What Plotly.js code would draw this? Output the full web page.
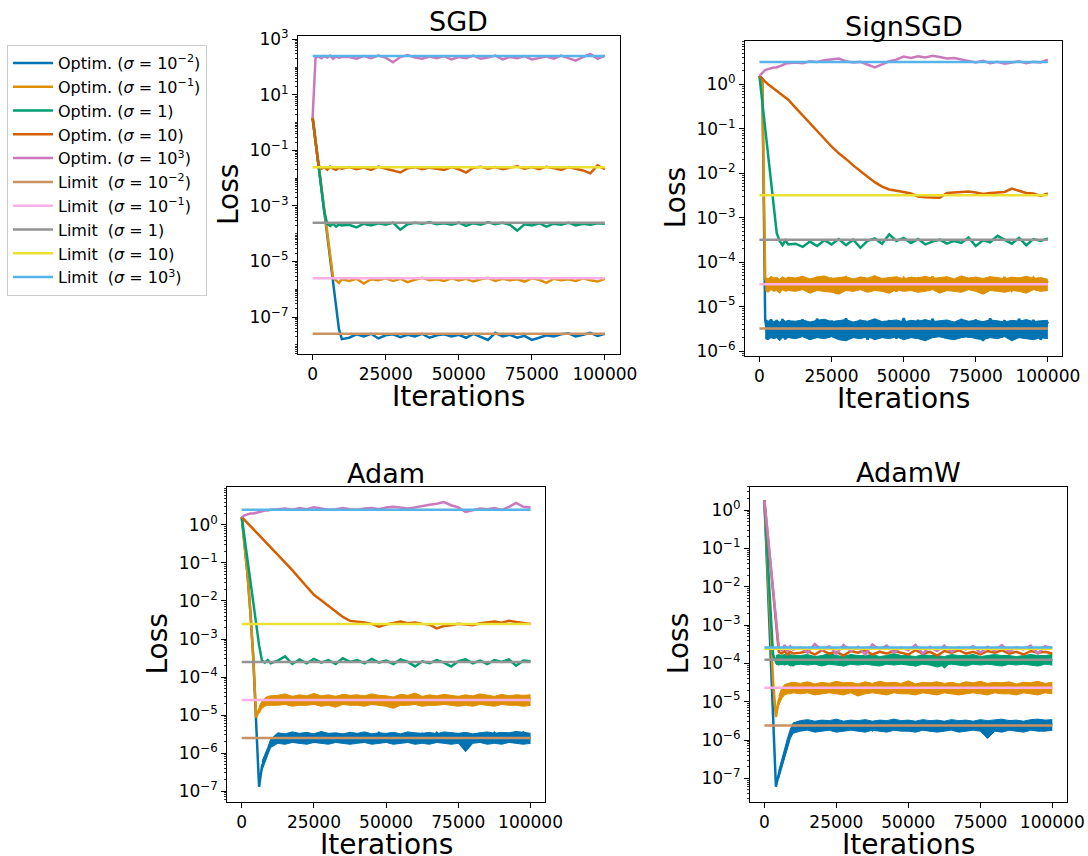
<!DOCTYPE html>
<html><head><meta charset="utf-8">
<script src="https://cdn.plot.ly/plotly-3.0.1.min.js"></script>
<style>html,body{margin:0;padding:0;background:#fff}#chart{width:1088px;height:856px}</style>
</head><body><div id="chart"></div>
<script>
// ---------------- DATA ----------------
const iters = [0,1000,2000,3000,4000,5000,6000,7000,8000,9000,10000,
  12500,15000,17500,20000,22500,25000,27500,30000,32500,35000,37500,40000,42500,45000,47500,50000,
  52500,55000,57500,60000,62500,65000,67500,70000,72500,75000,77500,80000,82500,85000,87500,90000,
  92500,95000,97500,100000];

const sigmaLabels = ['10<sup>−2</sup>','10<sup>−1</sup>','1','10','10<sup>3</sup>'];

// SGD
const sgd_s001 = [1.5,0.21,0.030,4.2e-3,6.0e-4,8.7e-5,1.2e-5,1.8e-6,2.6e-7,3.7e-8,1.6e-8,
  1.8e-8,2.4e-8,2.0e-8,2.5e-8,1.7e-8,2.2e-8,2.4e-8,1.9e-8,2.3e-8,2.0e-8,2.5e-8,1.8e-8,2.2e-8,2.4e-8,2.0e-8,2.3e-8,
  1.8e-8,2.5e-8,2.0e-8,1.5e-8,2.7e-8,2.0e-8,2.3e-8,1.8e-8,2.1e-8,1.5e-8,1.8e-8,2.2e-8,2.0e-8,2.4e-8,2.6e-8,2.0e-8,
  2.3e-8,2.7e-8,2.1e-8,2.5e-8];
const sgd_s01 = [1.5,0.21,0.030,4.2e-3,6.0e-4,8.7e-5,1.2e-5,2.6e-6,2.1e-6,1.7e-6,2.3e-6,
  2.0e-6,2.4e-6,1.6e-6,2.3e-6,2.1e-6,2.5e-6,2.0e-6,2.4e-6,1.8e-6,2.2e-6,2.6e-6,2.1e-6,2.3e-6,2.0e-6,2.5e-6,2.1e-6,
  2.4e-6,1.9e-6,2.3e-6,2.6e-6,2.0e-6,2.4e-6,2.1e-6,2.3e-6,1.9e-6,2.5e-6,2.2e-6,1.7e-6,2.4e-6,2.1e-6,2.3e-6,2.0e-6,
  2.5e-6,2.1e-6,1.9e-6,2.4e-6];
const sgd_s1 = [1.5,0.21,0.030,4.2e-3,6.0e-4,2.3e-4,1.9e-4,2.3e-4,1.8e-4,2.2e-4,2.0e-4,
  2.1e-4,1.7e-4,2.3e-4,2.0e-4,2.4e-4,2.1e-4,2.5e-4,1.4e-4,2.2e-4,2.5e-4,2.3e-4,2.6e-4,2.2e-4,2.4e-4,2.1e-4,2.5e-4,
  1.9e-4,2.4e-4,2.1e-4,2.6e-4,2.2e-4,2.5e-4,2.1e-4,1.3e-4,2.2e-4,2.0e-4,2.4e-4,1.8e-4,2.3e-4,2.1e-4,2.5e-4,2.0e-4,
  2.3e-4,2.1e-4,2.4e-4,2.3e-4];
const sgd_s10 = [1.5,0.21,0.030,2.2e-2,2.5e-2,2.0e-2,2.6e-2,2.2e-2,2.0e-2,2.4e-2,2.2e-2,
  2.5e-2,2.1e-2,2.4e-2,2.0e-2,2.6e-2,2.2e-2,1.9e-2,1.6e-2,2.3e-2,2.5e-2,2.1e-2,2.4e-2,2.2e-2,2.0e-2,2.5e-2,2.1e-2,
  1.6e-2,2.4e-2,2.6e-2,2.2e-2,2.5e-2,2.1e-2,2.4e-2,2.7e-2,2.2e-2,2.5e-2,2.1e-2,2.6e-2,2.3e-2,2.0e-2,2.5e-2,2.2e-2,
  1.9e-2,1.5e-2,2.9e-2,2.1e-2];
const sgd_s1000 = [1.5,2.2e2,2.4e2,2.1e2,2.5e2,2.2e2,2.6e2,2.0e2,2.4e2,2.2e2,2.3e2,
  2.3e2,2.0e2,2.5e2,2.1e2,2.6e2,2.2e2,1.5e2,2.3e2,2.7e2,2.2e2,2.0e2,2.4e2,2.1e2,2.5e2,1.9e2,2.3e2,
  2.1e2,2.6e2,2.0e2,2.2e2,2.6e2,1.9e2,2.3e2,2.1e2,2.5e2,1.9e2,2.2e2,2.4e2,2.0e2,2.6e2,2.1e2,1.7e2,
  2.3e2,3.0e2,2.0e2,2.6e2];
const sgd_limits = [2.5e-8,2.5e-6,2.5e-4,2.5e-2,2.5e2];

// SignSGD
const sign_s001 = [1.55,1.3,5.0e-6,2.0e-6,5.2e-6,1.9e-6,5.0e-6,2.1e-6,5.3e-6,1.8e-6,4.9e-6,
  2.0e-6,5.1e-6,1.8e-6,5.3e-6,2.1e-6,4.8e-6,1.9e-6,5.4e-6,2.0e-6,5.0e-6,1.8e-6,5.2e-6,2.1e-6,4.9e-6,1.9e-6,5.5e-6,
  2.0e-6,5.0e-6,1.8e-6,5.3e-6,2.1e-6,4.8e-6,1.9e-6,5.2e-6,2.0e-6,5.1e-6,1.7e-6,5.4e-6,2.0e-6,4.9e-6,1.9e-6,5.3e-6,
  2.1e-6,5.0e-6,1.8e-6,4.6e-6];
// upper / lower edge of the noisy band (from x = 2000 on)
const sign_s001_hi = [5.2e-6,4.7e-6,5.0e-6,4.6e-6,4.9e-6,4.5e-6,5.1e-6,4.7e-6,4.8e-6,
  4.7e-6,5.0e-6,4.5e-6,4.9e-6,5.2e-6,4.6e-6,4.8e-6,5.1e-6,4.5e-6,4.9e-6,
  4.7e-6,5.3e-6,4.6e-6,4.8e-6,5.0e-6,4.5e-6,4.9e-6,4.7e-6,5.1e-6,4.6e-6,
  4.8e-6,5.0e-6,4.5e-6,5.2e-6,4.7e-6,4.9e-6,4.6e-6,5.0e-6,4.8e-6,4.5e-6,
  4.9e-6,4.7e-6,5.1e-6,4.6e-6,4.8e-6,4.9e-6];
const sign_s001_lo = [1.9e-6,1.8e-6,2.0e-6,1.9e-6,2.0e-6,1.7e-6,2.0e-6,1.9e-6,2.0e-6,
  1.9e-6,2.1e-6,1.8e-6,2.0e-6,1.9e-6,2.1e-6,1.8e-6,1.7e-6,2.0e-6,1.9e-6,
  2.1e-6,1.8e-6,2.0e-6,1.9e-6,2.1e-6,1.8e-6,2.0e-6,1.9e-6,1.7e-6,2.0e-6,
  2.1e-6,1.9e-6,1.8e-6,2.0e-6,2.1e-6,1.9e-6,1.8e-6,2.0e-6,1.9e-6,2.1e-6,
  1.7e-6,2.0e-6,1.9e-6,1.8e-6,2.0e-6,1.9e-6];
const sign_s01 = [1.55,1.3,4.5e-5,2.5e-5,4.2e-5,2.6e-5,4.4e-5,2.4e-5,4.0e-5,2.7e-5,4.3e-5,
  2.5e-5,4.4e-5,2.2e-5,4.6e-5,2.4e-5,4.2e-5,2.6e-5,4.5e-5,2.3e-5,4.3e-5,2.5e-5,4.6e-5,2.4e-5,4.1e-5,2.2e-5,4.4e-5,
  2.6e-5,4.3e-5,2.3e-5,4.7e-5,2.5e-5,4.2e-5,2.4e-5,4.5e-5,2.6e-5,4.3e-5,2.2e-5,4.4e-5,2.5e-5,4.6e-5,2.3e-5,4.2e-5,
  2.5e-5,4.5e-5,2.4e-5,3.8e-5];
const sign_s01_hi = [4.6e-5,4.2e-5,4.8e-5,4.4e-5,4.5e-5,4.1e-5,4.7e-5,4.3e-5,4.6e-5,
  4.4e-5,4.8e-5,4.2e-5,4.6e-5,4.9e-5,4.3e-5,4.5e-5,4.7e-5,4.2e-5,4.6e-5,
  4.4e-5,4.9e-5,4.3e-5,4.5e-5,4.7e-5,4.2e-5,4.6e-5,4.4e-5,4.8e-5,4.3e-5,
  4.5e-5,4.7e-5,4.2e-5,4.9e-5,4.4e-5,4.6e-5,4.3e-5,4.7e-5,4.5e-5,4.2e-5,
  4.6e-5,4.4e-5,4.8e-5,4.3e-5,4.5e-5,4.1e-5];
const sign_s01_lo = [2.3e-5,2.1e-5,2.4e-5,2.2e-5,2.3e-5,2.0e-5,2.4e-5,2.2e-5,2.3e-5,
  2.2e-5,2.4e-5,2.0e-5,2.3e-5,2.2e-5,2.1e-5,1.9e-5,2.3e-5,2.2e-5,2.4e-5,
  2.1e-5,2.3e-5,2.2e-5,2.0e-5,2.4e-5,2.2e-5,2.3e-5,2.1e-5,2.2e-5,2.4e-5,
  2.0e-5,2.3e-5,2.2e-5,2.1e-5,2.4e-5,2.2e-5,1.9e-5,2.3e-5,2.2e-5,2.1e-5,
  2.3e-5,2.2e-5,2.0e-5,2.4e-5,2.2e-5,2.3e-5];
const sign_s1 = [1.55,0.39,0.099,0.025,6.2e-3,1.6e-3,4.5e-4,3.0e-4,2.4e-4,3.1e-4,2.5e-4,
  2.6e-4,2.2e-4,2.9e-4,2.3e-4,3.1e-4,2.5e-4,3.3e-4,2.4e-4,3.2e-4,2.1e-4,3.0e-4,3.4e-4,2.6e-4,4.2e-4,3.0e-4,3.5e-4,
  2.7e-4,3.3e-4,2.5e-4,2.9e-4,3.2e-4,2.6e-4,3.0e-4,2.7e-4,3.6e-4,2.3e-4,3.1e-4,2.8e-4,3.9e-4,3.2e-4,2.6e-4,3.5e-4,
  2.4e-4,3.3e-4,3.0e-4,3.4e-4];
const sign_s10 = [1.55,1.32,1.17,1.0,0.89,0.79,0.71,0.63,0.56,0.50,0.45,
  0.30,0.20,0.13,0.089,0.060,0.040,0.028,0.021,0.015,0.011,8.3e-3,6.3e-3,5.0e-3,4.3e-3,4.1e-3,3.8e-3,
  3.5e-3,3.0e-3,2.9e-3,2.8e-3,2.8e-3,3.6e-3,3.7e-3,3.8e-3,3.9e-3,3.7e-3,3.4e-3,3.6e-3,3.7e-3,3.8e-3,4.5e-3,4.0e-3,
  3.6e-3,3.5e-3,3.1e-3,3.5e-3];
const sign_s1000 = [1.55,1.8,2.1,2.2,2.3,2.4,2.4,2.6,2.7,2.9,3.0,
  3.1,3.0,3.3,3.2,3.5,3.7,3.8,3.3,3.1,3.2,2.8,2.4,2.8,3.3,3.6,4.2,
  3.9,4.3,4.0,4.4,4.1,3.8,3.9,3.6,3.3,3.1,3.4,3.0,3.2,2.9,3.1,3.3,
  3.0,3.2,3.1,3.6];
const sign_limits = [3.2e-6,3.2e-5,3.2e-4,3.2e-3,3.2];

// Adam
const adam_s001 = [1.6,0.32,0.05,5e-3,3.2e-4,6e-6,1.3e-7,4.5e-7,7e-7,1.1e-6,1.8e-6,
  2.8e-6,2.1e-6,3.3e-6,2.2e-6,3.1e-6,2.0e-6,3.4e-6,2.3e-6,3.0e-6,2.1e-6,3.3e-6,2.2e-6,3.2e-6,2.0e-6,3.4e-6,2.2e-6,
  3.1e-6,2.1e-6,3.3e-6,2.3e-6,3.2e-6,2.0e-6,3.4e-6,2.2e-6,3.0e-6,2.3e-6,1.2e-6,2.1e-6,3.2e-6,2.2e-6,3.4e-6,2.0e-6,
  3.1e-6,2.3e-6,3.5e-6,2.4e-6];
// band edges from x = 7000 on
const adam_s001_hi = [6e-7,9e-7,1.4e-6,2.3e-6,
  3.4e-6,3.2e-6,3.6e-6,3.3e-6,3.5e-6,3.2e-6,3.7e-6,3.3e-6,3.4e-6,3.2e-6,
  3.5e-6,3.3e-6,3.6e-6,3.2e-6,3.4e-6,3.3e-6,3.5e-6,3.2e-6,3.6e-6,3.4e-6,
  3.3e-6,3.5e-6,3.2e-6,3.6e-6,3.4e-6,3.3e-6,3.5e-6,3.2e-6,3.4e-6,3.6e-6,
  3.3e-6,3.5e-6,3.4e-6,3.7e-6,3.5e-6,3.3e-6];
const adam_s001_lo = [3.5e-7,5.5e-7,9e-7,1.4e-6,
  1.8e-6,1.7e-6,1.9e-6,1.8e-6,1.7e-6,1.9e-6,1.8e-6,1.7e-6,1.9e-6,1.8e-6,
  1.7e-6,1.8e-6,1.9e-6,1.7e-6,1.8e-6,1.9e-6,1.7e-6,1.8e-6,1.9e-6,1.7e-6,
  1.8e-6,1.7e-6,1.9e-6,1.8e-6,1.7e-6,1.8e-6,1.1e-6,1.8e-6,1.9e-6,1.7e-6,
  1.8e-6,1.7e-6,1.9e-6,1.8e-6,1.7e-6,1.8e-6];
const adam_s01 = [1.6,0.32,0.05,5e-3,3.2e-4,8.5e-6,1.4e-5,1.9e-5,2.2e-5,2.6e-5,2.4e-5,
  2.5e-5,3.0e-5,2.2e-5,2.8e-5,2.4e-5,3.2e-5,2.3e-5,2.7e-5,2.1e-5,3.0e-5,2.5e-5,2.8e-5,2.3e-5,3.1e-5,2.6e-5,2.4e-5,
  1.9e-5,2.9e-5,2.5e-5,3.3e-5,2.2e-5,2.7e-5,2.4e-5,3.0e-5,2.6e-5,2.3e-5,2.8e-5,2.4e-5,3.1e-5,2.5e-5,2.2e-5,2.9e-5,
  2.4e-5,2.8e-5,2.5e-5,2.7e-5];
// band edges from x = 6000 on
const adam_s01_hi = [1.7e-5,2.3e-5,2.8e-5,3.1e-5,3.2e-5,
  3.3e-5,3.6e-5,3.1e-5,3.4e-5,3.2e-5,3.7e-5,3.2e-5,3.4e-5,3.1e-5,3.5e-5,
  3.3e-5,3.4e-5,3.2e-5,3.6e-5,3.3e-5,3.2e-5,3.0e-5,3.5e-5,3.3e-5,3.8e-5,
  3.1e-5,3.4e-5,3.2e-5,3.5e-5,3.3e-5,3.1e-5,3.4e-5,3.2e-5,3.6e-5,3.3e-5,
  3.1e-5,3.5e-5,3.2e-5,3.4e-5,3.3e-5,3.4e-5];
const adam_s01_lo = [1.1e-5,1.5e-5,1.7e-5,1.8e-5,1.8e-5,
  1.8e-5,1.9e-5,1.7e-5,1.8e-5,1.8e-5,1.9e-5,1.7e-5,1.8e-5,1.6e-5,1.9e-5,
  1.8e-5,1.8e-5,1.7e-5,1.9e-5,1.8e-5,1.7e-5,1.5e-5,1.8e-5,1.8e-5,1.9e-5,
  1.7e-5,1.8e-5,1.8e-5,1.9e-5,1.8e-5,1.7e-5,1.8e-5,1.7e-5,1.9e-5,1.8e-5,
  1.7e-5,1.9e-5,1.8e-5,1.8e-5,1.7e-5,1.8e-5];
const adam_s1 = [1.6,0.44,0.12,0.033,9.1e-3,2.5e-3,6.9e-4,2.7e-4,2.4e-4,2.8e-4,2.3e-4,
  2.7e-4,3.5e-4,2.2e-4,2.9e-4,2.3e-4,3.0e-4,2.4e-4,2.8e-4,2.2e-4,3.1e-4,2.5e-4,2.8e-4,2.3e-4,3.0e-4,2.4e-4,2.7e-4,
  2.2e-4,2.9e-4,2.5e-4,1.9e-4,2.6e-4,2.3e-4,2.8e-4,2.4e-4,1.9e-4,2.6e-4,2.9e-4,2.3e-4,2.7e-4,2.2e-4,2.8e-4,2.5e-4,
  2.9e-4,2.0e-4,2.7e-4,2.6e-4];
const adam_s10 = [1.6,1.32,1.1,0.92,0.77,0.65,0.54,0.45,0.38,0.31,0.26,
  0.17,0.105,0.065,0.039,0.024,0.0145,0.0105,7.6e-3,5.4e-3,3.8e-3,3.0e-3,2.9e-3,2.7e-3,2.5e-3,2.1e-3,2.4e-3,
  2.6e-3,2.9e-3,2.6e-3,2.7e-3,2.5e-3,2.4e-3,1.9e-3,2.2e-3,2.3e-3,2.5e-3,2.4e-3,2.3e-3,2.6e-3,2.7e-3,2.9e-3,2.7e-3,
  3.0e-3,2.8e-3,2.6e-3,2.5e-3];
const adam_s1000 = [1.6,1.8,1.9,2.0,2.0,2.1,2.2,2.3,2.4,2.4,2.5,
  2.6,2.7,2.5,2.8,2.6,2.9,2.7,2.5,2.6,2.8,2.6,2.5,2.7,2.8,2.6,2.9,
  3.0,2.8,2.7,2.9,3.2,3.4,3.6,4.0,3.3,2.9,2.2,2.4,2.7,2.6,2.8,2.5,
  3.0,3.8,3.0,2.9];
const adam_limits = [2.5e-6,2.5e-5,2.5e-4,2.5e-3,2.5];

// AdamW
const adamw_s001 = [1.8,0.019,2e-4,2e-6,6e-8,1.3e-7,2.4e-7,4.6e-7,8.5e-7,1.4e-6,2.0e-6,
  2.1e-6,3.0e-6,1.8e-6,2.9e-6,2.0e-6,3.1e-6,1.9e-6,2.8e-6,2.2e-6,3.0e-6,1.8e-6,2.9e-6,2.1e-6,3.2e-6,1.9e-6,2.8e-6,
  2.0e-6,3.0e-6,1.8e-6,2.9e-6,2.1e-6,3.1e-6,1.9e-6,2.8e-6,2.0e-6,3.0e-6,1.2e-6,2.9e-6,2.1e-6,3.1e-6,1.9e-6,2.8e-6,
  2.0e-6,3.2e-6,2.2e-6,2.7e-6];
// band edges from x = 5000 on
const adamw_s001_hi = [1.6e-7,3.2e-7,6e-7,1.1e-6,1.9e-6,2.8e-6,
  3.2e-6,3.4e-6,3.1e-6,3.3e-6,3.2e-6,3.5e-6,3.1e-6,3.3e-6,3.2e-6,3.4e-6,
  3.1e-6,3.3e-6,3.2e-6,3.5e-6,3.2e-6,3.3e-6,3.1e-6,3.4e-6,3.2e-6,3.3e-6,
  3.1e-6,3.4e-6,3.2e-6,3.3e-6,3.1e-6,3.4e-6,3.2e-6,3.3e-6,3.5e-6,3.2e-6,
  3.3e-6,3.1e-6,3.4e-6,3.5e-6,3.3e-6,3.4e-6];
const adamw_s001_lo = [1.0e-7,1.8e-7,3.5e-7,6.5e-7,1.1e-6,1.5e-6,
  1.7e-6,1.8e-6,1.6e-6,1.7e-6,1.8e-6,1.6e-6,1.7e-6,1.8e-6,1.7e-6,1.6e-6,
  1.8e-6,1.7e-6,1.6e-6,1.8e-6,1.7e-6,1.7e-6,1.6e-6,1.8e-6,1.7e-6,1.6e-6,
  1.7e-6,1.8e-6,1.6e-6,1.7e-6,1.8e-6,1.7e-6,1.1e-6,1.7e-6,1.6e-6,1.8e-6,
  1.7e-6,1.6e-6,1.8e-6,1.7e-6,1.7e-6,1.8e-6];
const adamw_s01 = [1.8,0.05,1.3e-3,3.5e-5,4e-6,1.1e-5,1.6e-5,2.0e-5,2.1e-5,1.9e-5,2.2e-5,
  2.0e-5,2.6e-5,1.7e-5,2.4e-5,1.9e-5,2.8e-5,2.1e-5,2.5e-5,1.6e-5,2.3e-5,2.0e-5,2.7e-5,1.9e-5,2.4e-5,2.2e-5,2.8e-5,
  1.8e-5,2.5e-5,2.0e-5,2.6e-5,1.9e-5,2.4e-5,1.7e-5,2.5e-5,2.1e-5,2.7e-5,1.9e-5,2.4e-5,2.0e-5,2.6e-5,1.8e-5,2.5e-5,
  2.1e-5,2.7e-5,1.9e-5,2.4e-5];
// band edges from x = 5000 on
const adamw_s01_hi = [1.4e-5,2.2e-5,2.8e-5,3.0e-5,3.1e-5,3.2e-5,
  3.0e-5,3.3e-5,2.9e-5,3.2e-5,3.0e-5,3.4e-5,3.1e-5,3.2e-5,2.9e-5,3.3e-5,
  3.0e-5,3.4e-5,3.1e-5,3.2e-5,3.0e-5,3.5e-5,2.9e-5,3.2e-5,3.1e-5,3.3e-5,
  3.0e-5,3.2e-5,2.9e-5,3.3e-5,3.1e-5,3.4e-5,3.0e-5,3.2e-5,3.1e-5,3.3e-5,
  2.9e-5,3.2e-5,3.1e-5,3.4e-5,3.0e-5,3.2e-5];
const adamw_s01_lo = [0.8e-5,1.2e-5,1.5e-5,1.6e-5,1.6e-5,1.7e-5,
  1.6e-5,1.7e-5,1.5e-5,1.6e-5,1.7e-5,1.6e-5,1.5e-5,1.7e-5,1.4e-5,1.6e-5,
  1.7e-5,1.6e-5,1.5e-5,1.7e-5,1.6e-5,1.6e-5,1.5e-5,1.7e-5,1.6e-5,1.5e-5,
  1.7e-5,1.6e-5,1.5e-5,1.6e-5,1.7e-5,1.6e-5,1.5e-5,1.7e-5,1.6e-5,1.6e-5,
  1.5e-5,1.7e-5,1.6e-5,1.5e-5,1.7e-5,1.6e-5];
const adamw_s1 = [1.8,0.083,3.8e-3,1.7e-4,1.1e-4,1.3e-4,1.0e-4,1.4e-4,1.1e-4,1.2e-4,0.9e-4,
  1.3e-4,1.0e-4,1.4e-4,1.1e-4,1.5e-4,1.2e-4,0.9e-4,1.3e-4,1.1e-4,1.4e-4,1.2e-4,1.0e-4,1.3e-4,1.5e-4,1.1e-4,1.2e-4,
  0.9e-4,1.4e-4,1.0e-4,1.3e-4,0.8e-4,1.2e-4,1.4e-4,1.1e-4,1.3e-4,1.0e-4,1.2e-4,1.4e-4,1.1e-4,1.3e-4,1.0e-4,1.2e-4,
  1.4e-4,1.1e-4,1.3e-4,1.2e-4];
// band edges from x = 4000 on
const adamw_s1_hi = [1.6e-4,1.7e-4,1.6e-4,1.7e-4,1.6e-4,1.7e-4,1.6e-4,
  1.6e-4,1.7e-4,1.5e-4,1.6e-4,1.8e-4,1.6e-4,1.5e-4,1.7e-4,1.6e-4,1.6e-4,
  1.7e-4,1.5e-4,1.6e-4,1.8e-4,1.6e-4,1.6e-4,1.5e-4,1.7e-4,1.6e-4,1.6e-4,
  1.5e-4,1.7e-4,1.6e-4,1.6e-4,1.7e-4,1.5e-4,1.6e-4,1.7e-4,1.6e-4,1.6e-4,
  1.5e-4,1.6e-4,1.7e-4,1.6e-4,1.6e-4,1.7e-4];
const adamw_s1_lo = [0.95e-4,0.9e-4,0.95e-4,0.9e-4,0.95e-4,0.85e-4,0.9e-4,
  0.95e-4,0.9e-4,0.95e-4,0.85e-4,0.95e-4,0.9e-4,0.85e-4,0.95e-4,0.9e-4,0.95e-4,
  0.9e-4,0.85e-4,0.95e-4,0.9e-4,0.95e-4,0.9e-4,0.85e-4,0.95e-4,0.9e-4,0.8e-4,
  0.9e-4,0.95e-4,0.9e-4,0.85e-4,0.95e-4,0.9e-4,0.95e-4,0.9e-4,0.85e-4,0.95e-4,
  0.9e-4,0.95e-4,0.9e-4,0.85e-4,0.95e-4,0.9e-4];
const adamw_s10 = [1.8,0.28,0.045,7e-3,1.1e-3,2.0e-4,1.8e-4,2.1e-4,1.7e-4,2.0e-4,1.8e-4,
  1.9e-4,2.1e-4,1.7e-4,2.2e-4,1.8e-4,2.0e-4,1.6e-4,2.1e-4,1.9e-4,2.2e-4,1.7e-4,2.0e-4,1.8e-4,2.1e-4,1.9e-4,1.7e-4,
  2.2e-4,1.8e-4,2.0e-4,1.6e-4,2.1e-4,1.9e-4,2.2e-4,1.8e-4,2.0e-4,1.7e-4,2.1e-4,1.9e-4,2.2e-4,1.8e-4,2.0e-4,1.7e-4,
  2.1e-4,1.9e-4,2.0e-4,1.8e-4];
const adamw_s1000 = [1.8,0.29,0.046,7.3e-3,1.2e-3,2.6e-4,2.2e-4,3.0e-4,2.0e-4,2.8e-4,2.3e-4,
  2.6e-4,1.9e-4,3.2e-4,2.2e-4,2.8e-4,1.8e-4,3.0e-4,2.1e-4,2.7e-4,1.7e-4,3.1e-4,2.3e-4,2.9e-4,1.9e-4,2.6e-4,2.2e-4,
  3.0e-4,1.8e-4,2.7e-4,2.1e-4,2.9e-4,2.0e-4,2.6e-4,2.3e-4,2.8e-4,1.9e-4,2.7e-4,2.2e-4,3.0e-4,2.0e-4,2.6e-4,2.3e-4,
  2.9e-4,1.8e-4,2.8e-4,2.5e-4];
const adamw_limits = [2.4e-6,2.3e-5,1.25e-4,2.4e-4,2.6e-4];

// ticks
const sgd_ytick_exp = [-7,-5,-3,-1,1,3];
const sign_ytick_exp = [-6,-5,-4,-3,-2,-1,0];
const adam_ytick_exp = [-7,-6,-5,-4,-3,-2,-1,0];
const adamw_ytick_exp = [-7,-6,-5,-4,-3,-2,-1,0];
const xtick_vals = [0,25000,50000,75000,100000];
const xtick_text = ['0','25000','50000','75000','100000'];
const titles = ['SGD','SignSGD','Adam','AdamW'];

// ---------------- STYLE / LAYOUT ----------------
const optimColors = ['#0173B2','#DE8F05','#029E73','#D55E00','#CC78BC'];
const limitColors = ['#CA9161','#FBAFE4','#949494','#ECE133','#56B4E9'];
const W = 1088, H = 856;
const FONT = 'DejaVu Sans, sans-serif';
// pixel boxes [left, right, top, bottom]
const boxes = [[298,619.5,36,354],[745,1062.3,41,355.7],[227.3,545,487.3,801.7],[750,1066.7,486.7,801.7]];
const yranges = [[-8.33,3.12],[-6.105,0.975],[-7.28,0.991],[-7.61,0.609]];
const lossX = [228,675,157,678];

const panels = [
  {optim:[sgd_s001,sgd_s01,sgd_s1,sgd_s10,sgd_s1000], bands:[null,null,null,null,null],
   limits:sgd_limits, yexp:sgd_ytick_exp},
  {optim:[sign_s001,sign_s01,sign_s1,sign_s10,sign_s1000],
   bands:[[sign_s001_lo,sign_s001_hi],[sign_s01_lo,sign_s01_hi],null,null,null],
   limits:sign_limits, yexp:sign_ytick_exp},
  {optim:[adam_s001,adam_s01,adam_s1,adam_s10,adam_s1000],
   bands:[[adam_s001_lo,adam_s001_hi],[adam_s01_lo,adam_s01_hi],null,null,null],
   limits:adam_limits, yexp:adam_ytick_exp},
  {optim:[adamw_s001,adamw_s01,adamw_s1,adamw_s10,adamw_s1000],
   bands:[[adamw_s001_lo,adamw_s001_hi],[adamw_s01_lo,adamw_s01_hi],[adamw_s1_lo,adamw_s1_hi],null,null],
   limits:adamw_limits, yexp:adamw_ytick_exp}
];

function expText(e){ return '10<sup>' + (e < 0 ? '−' + (-e) : String(e)) + '</sup>'; }
const px = v => v / W, py = v => 1 - v / H;

const traces = [];
const layout = {
  width: W, height: H,
  margin: {l:0, r:0, t:0, b:0},
  paper_bgcolor: '#fff', plot_bgcolor: '#fff',
  font: {family: FONT, color: '#000'},
  showlegend: true,
  legend: {x: px(7), y: py(45), xanchor:'left', yanchor:'top', bgcolor:'#fff',
           bordercolor:'#cccccc', borderwidth:1, font:{family:FONT, size:16, color:'#000'},
           tracegroupgap:0, itemwidth:40, traceorder:'normal'},
  annotations: [],
  hovermode: false
};

panels.forEach((p, i) => {
  const sfx = i === 0 ? '' : String(i+1);
  const xa = 'x' + sfx, ya = 'y' + sfx;
  p.optim.forEach((ys, k) => {
    const band = p.bands[k];
    if (band) {
      const bx = iters.slice(iters.length - band[0].length);
      traces.push({x: bx, y: band[0], xaxis: xa, yaxis: ya, type:'scatter', mode:'lines',
        line:{color: optimColors[k], width:1}, showlegend:false, hoverinfo:'skip'});
      traces.push({x: bx, y: band[1], xaxis: xa, yaxis: ya, type:'scatter', mode:'lines',
        line:{color: optimColors[k], width:1}, fill:'tonexty', fillcolor: optimColors[k],
        showlegend:false, hoverinfo:'skip'});
    }
    traces.push({x: iters, y: ys, xaxis: xa, yaxis: ya, type:'scatter', mode:'lines',
      line:{color: optimColors[k], width:2.5}, name: 'Optim. (<i>σ</i> = ' + sigmaLabels[k] + ')',
      showlegend: i === 0, legendrank: k + 1});
  });
  p.limits.forEach((v, k) => {
    traces.push({x: [iters[0], iters[iters.length-1]], y: [v, v], xaxis: xa, yaxis: ya, type:'scatter', mode:'lines',
      line:{color: limitColors[k], width:2.5}, name: 'Limit\u00a0\u00a0(<i>σ</i> = ' + sigmaLabels[k] + ')',
      showlegend: i === 0, legendrank: k + 6});
  });
  const b = boxes[i];
  const common = {showline:true, linecolor:'#000', linewidth:1, mirror:true, showgrid:false, zeroline:false,
    ticks:'outside', ticklen:5, tickwidth:1, tickcolor:'#000', automargin:false,
    tickfont:{family:FONT, size:17, color:'#000'}};
  layout['xaxis' + sfx] = Object.assign({}, common, {domain:[px(b[0]), px(b[1])], range:[-5000,105000],
    anchor: ya, tickmode:'array', tickvals: xtick_vals, ticktext: xtick_text});
  layout['yaxis' + sfx] = Object.assign({}, common, {domain:[py(b[3]), py(b[2])], type:'log', range: yranges[i],
    anchor: xa, tickmode:'array', tickvals: p.yexp.map(e => Math.pow(10, e)), ticktext: p.yexp.map(expText),
    minor:{ticks:'outside', ticklen:2.5, tickwidth:0.8, tickcolor:'#000', dtick:'D1', showgrid:false}});
  const cx = (b[0] + b[1]) / 2;
  layout.annotations.push({text: titles[i], x: px(cx), y: py(b[2] - 14), xref:'paper', yref:'paper',
    xanchor:'center', yanchor:'middle', showarrow:false, font:{family:FONT, size:27, color:'#000'}});
  layout.annotations.push({text: 'Iterations', x: px(cx), y: py(b[3] + 43), xref:'paper', yref:'paper',
    xanchor:'center', yanchor:'middle', showarrow:false, font:{family:FONT, size:28, color:'#000'}});
  layout.annotations.push({text: 'Loss', x: px(lossX[i]), y: py((b[2] + b[3]) / 2), xref:'paper', yref:'paper',
    xanchor:'center', yanchor:'middle', textangle:-90, showarrow:false, font:{family:FONT, size:28, color:'#000'}});
});

Plotly.newPlot('chart', traces, layout, {displayModeBar:false, staticPlot:true});
</script>
</body></html>
